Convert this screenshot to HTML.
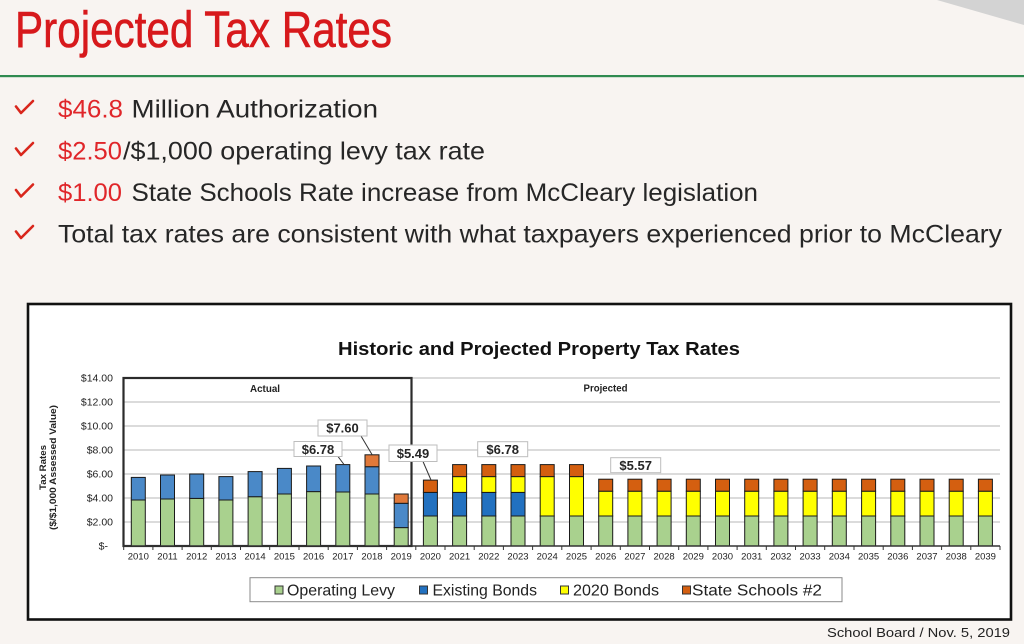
<!DOCTYPE html>
<html><head><meta charset="utf-8"><style>
html,body{margin:0;padding:0;background:#f8f4f1;}
svg{display:block;}
text{font-family:"Liberation Sans",Arial,sans-serif;}
</style></head><body>
<svg width="1024" height="644" viewBox="0 0 1024 644" xmlns="http://www.w3.org/2000/svg">
<rect x="0" y="0" width="1024" height="644" fill="#f8f4f1"/>
<polygon points="937,0 1024,0 1024,25" fill="#d3d3d3"/>
<!-- Title -->
<text x="15" y="47" font-size="51" fill="#d7191c" stroke="#d7191c" stroke-width="0.6" textLength="377" lengthAdjust="spacingAndGlyphs">Projected Tax Rates</text>
<rect x="0" y="75" width="1024" height="2.2" fill="#2f8a50"/>
<!-- bullets -->
<g fill="none" stroke="#d9261c" stroke-width="2.6" stroke-linecap="round" stroke-linejoin="round">
<path d="M16,106.5 L21,113 L33,101"/>
<path d="M16,148.5 L21,155 L33,143"/>
<path d="M16,190 L21,196.5 L33,184.5"/>
<path d="M16,231.5 L21,238 L33,226"/>
</g>
<g font-size="25" fill="#262626">
<text x="58" y="117.5" fill="#e0262a" textLength="65" lengthAdjust="spacingAndGlyphs">$46.8</text>
<text x="131.5" y="117.5" textLength="246.5" lengthAdjust="spacingAndGlyphs">Million Authorization</text>
<text x="58" y="159.5" fill="#e0262a" textLength="64" lengthAdjust="spacingAndGlyphs">$2.50</text>
<text x="123" y="159.5" textLength="362" lengthAdjust="spacingAndGlyphs">/$1,000 operating levy tax rate</text>
<text x="58" y="201" fill="#e0262a" textLength="64" lengthAdjust="spacingAndGlyphs">$1.00</text>
<text x="131.5" y="201" textLength="626.5" lengthAdjust="spacingAndGlyphs">State Schools Rate increase from McCleary legislation</text>
<text x="58" y="242.5" textLength="944" lengthAdjust="spacingAndGlyphs">Total tax rates are consistent with what taxpayers experienced prior to McCleary</text>
</g>
<!-- chart frame -->
<rect x="28" y="304" width="983" height="315.5" fill="#ffffff" stroke="#111" stroke-width="2.6"/>
<text x="539" y="355" font-size="18.5" font-weight="bold" fill="#111" text-anchor="middle" textLength="402" lengthAdjust="spacingAndGlyphs">Historic and Projected Property Tax Rates</text>
<!-- gridlines -->
<g stroke="#cfcfcf" stroke-width="1.5">
<line x1="123" y1="378" x2="1000" y2="378"/>
<line x1="123" y1="402" x2="1000" y2="402"/>
<line x1="123" y1="426" x2="1000" y2="426"/>
<line x1="123" y1="450" x2="1000" y2="450"/>
<line x1="123" y1="474" x2="1000" y2="474"/>
<line x1="123" y1="498" x2="1000" y2="498"/>
<line x1="123" y1="522" x2="1000" y2="522"/>
</g>
<!-- y labels -->
<g font-size="10.5" fill="#222" text-anchor="end">
<text x="113" y="381.5">$14.00</text>
<text x="113" y="405.5">$12.00</text>
<text x="113" y="429.5">$10.00</text>
<text x="113" y="453.5">$8.00</text>
<text x="113" y="477.5">$6.00</text>
<text x="113" y="501.5">$4.00</text>
<text x="113" y="525.5">$2.00</text>
<text x="108" y="549.5">$-</text>
</g>
<g font-size="9.5" font-weight="bold" fill="#222" text-anchor="middle">
<text transform="translate(46,467.5) rotate(-90)" textLength="45" lengthAdjust="spacingAndGlyphs">Tax Rates</text>
<text transform="translate(56,467.5) rotate(-90)" textLength="125" lengthAdjust="spacingAndGlyphs">($/$1,000 Assessed Value)</text>
</g>
<!-- Actual box -->
<rect x="123.5" y="378" width="288" height="168" fill="none" stroke="#2b2b2b" stroke-width="2.2"/>
<text x="265" y="392" font-size="10" font-weight="bold" fill="#222" text-anchor="middle" textLength="30" lengthAdjust="spacingAndGlyphs">Actual</text>
<text x="605.5" y="391.5" font-size="10" font-weight="bold" fill="#222" text-anchor="middle" textLength="44" lengthAdjust="spacingAndGlyphs">Projected</text>
<!-- bars -->
<g stroke="#1a1a1a" stroke-width="1">
<rect x="131.3" y="500" width="14" height="46" fill="#a9d18e"/><rect x="131.3" y="477.4" width="14" height="22.6" fill="#4a89c8"/>
<rect x="160.5" y="499" width="14" height="47" fill="#a9d18e"/><rect x="160.5" y="475" width="14" height="24" fill="#4a89c8"/>
<rect x="189.7" y="498.4" width="14" height="47.6" fill="#a9d18e"/><rect x="189.7" y="474" width="14" height="24.4" fill="#4a89c8"/>
<rect x="218.9" y="500" width="14" height="46" fill="#a9d18e"/><rect x="218.9" y="476.6" width="14" height="23.4" fill="#4a89c8"/>
<rect x="248.1" y="496.7" width="14" height="49.3" fill="#a9d18e"/><rect x="248.1" y="471.6" width="14" height="25.1" fill="#4a89c8"/>
<rect x="277.4" y="494" width="14" height="52" fill="#a9d18e"/><rect x="277.4" y="468.4" width="14" height="25.6" fill="#4a89c8"/>
<rect x="306.6" y="491.6" width="14" height="54.4" fill="#a9d18e"/><rect x="306.6" y="466" width="14" height="25.6" fill="#4a89c8"/>
<rect x="335.8" y="492" width="14" height="54" fill="#a9d18e"/><rect x="335.8" y="464.6" width="14" height="27.4" fill="#4a89c8"/>
<rect x="365" y="494" width="14" height="52" fill="#a9d18e"/><rect x="365" y="466.7" width="14" height="27.3" fill="#4a89c8"/><rect x="365" y="454.8" width="14" height="11.9" fill="#e0793a"/>
<rect x="394.2" y="527.6" width="14" height="18.4" fill="#a9d18e"/><rect x="394.2" y="503.3" width="14" height="24.3" fill="#4a89c8"/><rect x="394.2" y="494" width="14" height="9.3" fill="#e0793a"/>
<rect x="423.4" y="516" width="14" height="30" fill="#a9d18e"/><rect x="423.4" y="492.4" width="14" height="23.6" fill="#2271c0"/><rect x="423.4" y="480.1" width="14" height="12.3" fill="#d45f10"/>
<rect x="452.6" y="516" width="14" height="30" fill="#a9d18e"/><rect x="452.6" y="492.4" width="14" height="23.6" fill="#2271c0"/><rect x="452.6" y="476.6" width="14" height="15.8" fill="#ffff00"/><rect x="452.6" y="464.6" width="14" height="12" fill="#d45f10"/>
<rect x="481.8" y="516" width="14" height="30" fill="#a9d18e"/><rect x="481.8" y="492.4" width="14" height="23.6" fill="#2271c0"/><rect x="481.8" y="476.6" width="14" height="15.8" fill="#ffff00"/><rect x="481.8" y="464.6" width="14" height="12" fill="#d45f10"/>
<rect x="511" y="516" width="14" height="30" fill="#a9d18e"/><rect x="511" y="492.4" width="14" height="23.6" fill="#2271c0"/><rect x="511" y="476.6" width="14" height="15.8" fill="#ffff00"/><rect x="511" y="464.6" width="14" height="12" fill="#d45f10"/>
<rect x="540.2" y="516" width="14" height="30" fill="#a9d18e"/><rect x="540.2" y="476.6" width="14" height="39.4" fill="#ffff00"/><rect x="540.2" y="464.6" width="14" height="12" fill="#d45f10"/>
<rect x="569.5" y="516" width="14" height="30" fill="#a9d18e"/><rect x="569.5" y="476.6" width="14" height="39.4" fill="#ffff00"/><rect x="569.5" y="464.6" width="14" height="12" fill="#d45f10"/>
<rect x="598.7" y="516" width="14" height="30" fill="#a9d18e"/><rect x="598.7" y="491.2" width="14" height="24.8" fill="#ffff00"/><rect x="598.7" y="479.2" width="14" height="12" fill="#d45f10"/>
<rect x="627.9" y="516" width="14" height="30" fill="#a9d18e"/><rect x="627.9" y="491.2" width="14" height="24.8" fill="#ffff00"/><rect x="627.9" y="479.2" width="14" height="12" fill="#d45f10"/>
<rect x="657.1" y="516" width="14" height="30" fill="#a9d18e"/><rect x="657.1" y="491.2" width="14" height="24.8" fill="#ffff00"/><rect x="657.1" y="479.2" width="14" height="12" fill="#d45f10"/>
<rect x="686.3" y="516" width="14" height="30" fill="#a9d18e"/><rect x="686.3" y="491.2" width="14" height="24.8" fill="#ffff00"/><rect x="686.3" y="479.2" width="14" height="12" fill="#d45f10"/>
<rect x="715.5" y="516" width="14" height="30" fill="#a9d18e"/><rect x="715.5" y="491.2" width="14" height="24.8" fill="#ffff00"/><rect x="715.5" y="479.2" width="14" height="12" fill="#d45f10"/>
<rect x="744.7" y="516" width="14" height="30" fill="#a9d18e"/><rect x="744.7" y="491.2" width="14" height="24.8" fill="#ffff00"/><rect x="744.7" y="479.2" width="14" height="12" fill="#d45f10"/>
<rect x="773.9" y="516" width="14" height="30" fill="#a9d18e"/><rect x="773.9" y="491.2" width="14" height="24.8" fill="#ffff00"/><rect x="773.9" y="479.2" width="14" height="12" fill="#d45f10"/>
<rect x="803.1" y="516" width="14" height="30" fill="#a9d18e"/><rect x="803.1" y="491.2" width="14" height="24.8" fill="#ffff00"/><rect x="803.1" y="479.2" width="14" height="12" fill="#d45f10"/>
<rect x="832.3" y="516" width="14" height="30" fill="#a9d18e"/><rect x="832.3" y="491.2" width="14" height="24.8" fill="#ffff00"/><rect x="832.3" y="479.2" width="14" height="12" fill="#d45f10"/>
<rect x="861.6" y="516" width="14" height="30" fill="#a9d18e"/><rect x="861.6" y="491.2" width="14" height="24.8" fill="#ffff00"/><rect x="861.6" y="479.2" width="14" height="12" fill="#d45f10"/>
<rect x="890.8" y="516" width="14" height="30" fill="#a9d18e"/><rect x="890.8" y="491.2" width="14" height="24.8" fill="#ffff00"/><rect x="890.8" y="479.2" width="14" height="12" fill="#d45f10"/>
<rect x="920" y="516" width="14" height="30" fill="#a9d18e"/><rect x="920" y="491.2" width="14" height="24.8" fill="#ffff00"/><rect x="920" y="479.2" width="14" height="12" fill="#d45f10"/>
<rect x="949.2" y="516" width="14" height="30" fill="#a9d18e"/><rect x="949.2" y="491.2" width="14" height="24.8" fill="#ffff00"/><rect x="949.2" y="479.2" width="14" height="12" fill="#d45f10"/>
<rect x="978.4" y="516" width="14" height="30" fill="#a9d18e"/><rect x="978.4" y="491.2" width="14" height="24.8" fill="#ffff00"/><rect x="978.4" y="479.2" width="14" height="12" fill="#d45f10"/>
</g>
<!-- x axis -->
<line x1="123" y1="546" x2="1000" y2="546" stroke="#333" stroke-width="1.5"/>
<g stroke="#333" stroke-width="1">
<line x1="123.7" y1="546" x2="123.7" y2="550"/><line x1="152.9" y1="546" x2="152.9" y2="550"/><line x1="182.1" y1="546" x2="182.1" y2="550"/><line x1="211.3" y1="546" x2="211.3" y2="550"/><line x1="240.5" y1="546" x2="240.5" y2="550"/><line x1="269.7" y1="546" x2="269.7" y2="550"/><line x1="299" y1="546" x2="299" y2="550"/><line x1="328.2" y1="546" x2="328.2" y2="550"/><line x1="357.4" y1="546" x2="357.4" y2="550"/><line x1="386.6" y1="546" x2="386.6" y2="550"/><line x1="415.8" y1="546" x2="415.8" y2="550"/><line x1="445" y1="546" x2="445" y2="550"/><line x1="474.2" y1="546" x2="474.2" y2="550"/><line x1="503.4" y1="546" x2="503.4" y2="550"/><line x1="532.6" y1="546" x2="532.6" y2="550"/><line x1="561.8" y1="546" x2="561.8" y2="550"/><line x1="591.1" y1="546" x2="591.1" y2="550"/><line x1="620.3" y1="546" x2="620.3" y2="550"/><line x1="649.5" y1="546" x2="649.5" y2="550"/><line x1="678.7" y1="546" x2="678.7" y2="550"/><line x1="707.9" y1="546" x2="707.9" y2="550"/><line x1="737.1" y1="546" x2="737.1" y2="550"/><line x1="766.3" y1="546" x2="766.3" y2="550"/><line x1="795.5" y1="546" x2="795.5" y2="550"/><line x1="824.7" y1="546" x2="824.7" y2="550"/><line x1="854" y1="546" x2="854" y2="550"/><line x1="883.2" y1="546" x2="883.2" y2="550"/><line x1="912.4" y1="546" x2="912.4" y2="550"/><line x1="941.6" y1="546" x2="941.6" y2="550"/><line x1="970.8" y1="546" x2="970.8" y2="550"/><line x1="1000" y1="546" x2="1000" y2="550"/>
</g>
<g font-size="9.5" fill="#222" text-anchor="middle">
<text x="138.3" y="559.5">2010</text><text x="167.5" y="559.5">2011</text><text x="196.7" y="559.5">2012</text><text x="225.9" y="559.5">2013</text><text x="255.1" y="559.5">2014</text><text x="284.4" y="559.5">2015</text><text x="313.6" y="559.5">2016</text><text x="342.8" y="559.5">2017</text><text x="372" y="559.5">2018</text><text x="401.2" y="559.5">2019</text>
<text x="430.4" y="559.5">2020</text><text x="459.6" y="559.5">2021</text><text x="488.8" y="559.5">2022</text><text x="518" y="559.5">2023</text><text x="547.2" y="559.5">2024</text><text x="576.5" y="559.5">2025</text><text x="605.7" y="559.5">2026</text><text x="634.9" y="559.5">2027</text><text x="664.1" y="559.5">2028</text><text x="693.3" y="559.5">2029</text>
<text x="722.5" y="559.5">2030</text><text x="751.7" y="559.5">2031</text><text x="780.9" y="559.5">2032</text><text x="810.1" y="559.5">2033</text><text x="839.3" y="559.5">2034</text><text x="868.6" y="559.5">2035</text><text x="897.8" y="559.5">2036</text><text x="927" y="559.5">2037</text><text x="956.2" y="559.5">2038</text><text x="985.4" y="559.5">2039</text>
</g>
<!-- callouts -->
<g stroke="#333" stroke-width="1">
<line x1="361" y1="436" x2="372" y2="454.5"/>
<line x1="338" y1="456.5" x2="344" y2="464.5"/>
<line x1="423" y1="461.5" x2="431" y2="480"/>
</g>
<g fill="#fff" stroke="#bdbdbd" stroke-width="1">
<rect x="318" y="420" width="49" height="16"/>
<rect x="294" y="441.5" width="48" height="15"/>
<rect x="389" y="445" width="48" height="16.5"/>
<rect x="477.7" y="441.7" width="50" height="15"/>
<rect x="610.7" y="457.7" width="50" height="15"/>
</g>
<g font-size="13" font-weight="bold" fill="#262626" text-anchor="middle">
<text x="342.5" y="432.5">$7.60</text>
<text x="318" y="453.8">$6.78</text>
<text x="413" y="458.2">$5.49</text>
<text x="502.7" y="454">$6.78</text>
<text x="635.7" y="470">$5.57</text>
</g>
<!-- legend -->
<rect x="250" y="577.7" width="592" height="24" fill="#fff" stroke="#8a8a8a" stroke-width="1"/>
<g stroke="#333" stroke-width="1">
<rect x="275" y="586" width="8" height="8" fill="#a9d18e"/>
<rect x="419.5" y="586" width="8" height="8" fill="#2271c0"/>
<rect x="560.5" y="586" width="8" height="8" fill="#ffff00"/>
<rect x="682.5" y="586" width="8" height="8" fill="#d45f10"/>
</g>
<g font-size="16" fill="#222">
<text x="287" y="595.5" textLength="108" lengthAdjust="spacingAndGlyphs">Operating Levy</text>
<text x="432.5" y="595.5" textLength="104.5" lengthAdjust="spacingAndGlyphs">Existing Bonds</text>
<text x="573" y="595.5" textLength="86" lengthAdjust="spacingAndGlyphs">2020 Bonds</text>
<text x="692" y="595.5" textLength="130" lengthAdjust="spacingAndGlyphs">State  Schools #2</text>
</g>
<text x="827" y="637" font-size="13" fill="#222" textLength="183" lengthAdjust="spacingAndGlyphs">School Board / Nov. 5, 2019</text>
</svg>
</body></html>
